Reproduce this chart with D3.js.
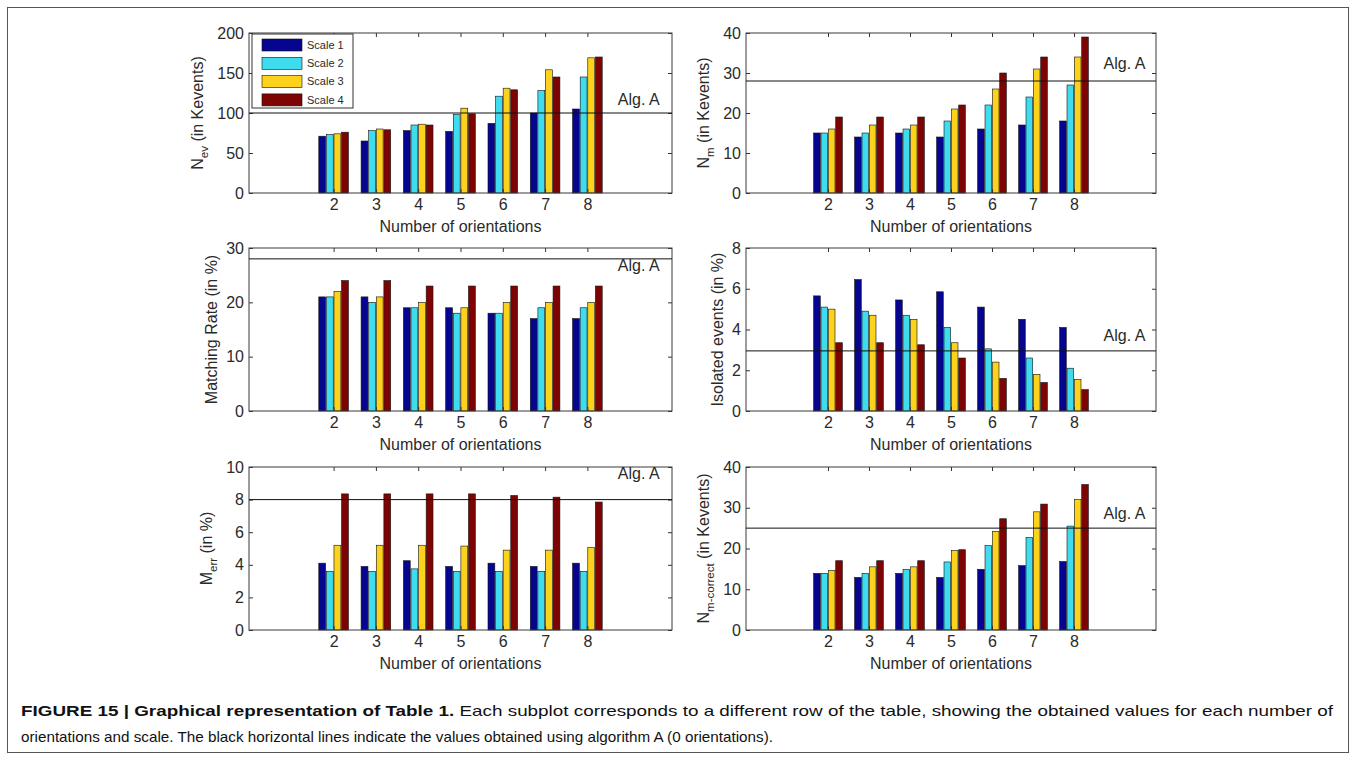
<!DOCTYPE html>
<html>
<head>
<meta charset="utf-8">
<script src="https://cdn.jsdelivr.net/npm/d3@7"></script>
<style>
  body { margin: 0; background: #fff; }
  svg text { font-family: Arial, "Liberation Sans", sans-serif; fill: #2a2a2a; }
  .caption text { font-family: "Liberation Sans Narrow", "Arial Narrow", "Liberation Sans", sans-serif; fill: #111; }
</style>
</head>
<body>
<script>
'use strict'

var orientations = [2, 3, 4, 5, 6, 7, 8]
var scaleNames   = ['Scale 1', 'Scale 2', 'Scale 3', 'Scale 4']
var scaleColors  = ['#050590', '#3fdcf0', '#fcd21c', '#7e0404']

// one row per scale, one value per orientation
var nEv = [
  [71, 65, 78, 77, 87, 100, 105],
  [73, 78, 85, 98, 121, 128, 145],
  [74, 80, 86, 106, 131, 154, 169],
  [76, 79, 85, 99, 129, 145, 170]
]
var nM = [
  [15, 14, 15, 14, 16, 17, 18],
  [15, 15, 16, 18, 22, 24, 27],
  [16, 17, 17, 21, 26, 31, 34],
  [19, 19, 19, 22, 30, 34, 39]
]
var matchRate = [
  [21, 21, 19, 19, 18, 17, 17],
  [21, 20, 19, 18, 18, 19, 19],
  [22, 21, 20, 19, 20, 20, 20],
  [24, 24, 23, 23, 23, 23, 23]
]
var isolated = [
  [5.65, 6.45, 5.45, 5.85, 5.1, 4.5, 4.1],
  [5.1, 4.9, 4.7, 4.1, 3.05, 2.6, 2.1],
  [5.0, 4.7, 4.5, 3.35, 2.4, 1.8, 1.55],
  [3.35, 3.35, 3.25, 2.6, 1.6, 1.4, 1.05]
]
var mErr = [
  [4.1, 3.9, 4.25, 3.9, 4.1, 3.9, 4.1],
  [3.6, 3.6, 3.75, 3.6, 3.6, 3.6, 3.6],
  [5.2, 5.2, 5.2, 5.15, 4.9, 4.9, 5.05],
  [8.35, 8.35, 8.35, 8.35, 8.25, 8.15, 7.85]
]
var nMCorrect = [
  [13.9, 12.9, 13.9, 12.9, 14.9, 15.8, 16.8],
  [13.9, 13.9, 14.9, 16.7, 20.7, 22.7, 25.5],
  [14.6, 15.5, 15.5, 19.5, 24.2, 29, 32],
  [17, 17, 17, 19.7, 27.3, 30.9, 35.7]
]

// algorithm A reference values (0 orientations)
var algA = [100, 28, 28, 2.95, 8, 25]
var yMax = [200, 40, 30, 8, 10, 40]
var yStep = [50, 10, 10, 2, 2, 10]

var panels = [
  { data: nEv, col: 0, row: 0, label: ['N', 'ev', ' (in Kevents)'], labelY: 117.5, legend: true },
  { data: nM, col: 1, row: 0, label: ['N', 'm', ' (in Kevents)'], labelY: 32.5 },
  { data: matchRate, col: 0, row: 1, label: ['Matching Rate (in %)'], labelY: 26.8 },
  { data: isolated, col: 1, row: 1, label: ['Isolated events (in %)'], labelY: 3.73 },
  { data: mErr, col: 0, row: 2, label: ['M', 'err', ' (in %)'], labelY: 9.63 },
  { data: nMCorrect, col: 1, row: 2, label: ['N', 'm-correct', ' (in Kevents)'], labelY: 28.7 }
]

var W = 1356, H = 760
var cols = [[249, 672], [746, 1156]]
var rows = [[33, 193], [248, 411], [467, 630]]

var svg = d3.select('body').append('svg')
  .attr('width', W)
  .attr('height', H)

svg.append('rect')
  .attr('x', 7.5).attr('y', 7.5)
  .attr('width', 1341).attr('height', 745)
  .attr('fill', 'none')
  .attr('stroke', '#555')

panels.forEach(function (p, i) {
  var x0 = cols[p.col][0], x1 = cols[p.col][1]
  var y0 = rows[p.row][0], y1 = rows[p.row][1]

  var x = d3.scaleLinear().domain([0, 10]).range([x0, x1])
  var y = d3.scaleLinear().domain([0, yMax[i]]).range([y1, y0])
  var inner = d3.scaleBand().domain(d3.range(scaleNames.length))
    .range([-0.35, 0.35]).paddingInner(0.1)

  var g = svg.append('g')
  var yTicks = d3.range(0, yMax[i] + 1e-9, yStep[i])

  // bars
  p.data.forEach(function (series, s) {
    g.selectAll()
      .data(series)
      .enter().append('rect')
      .attr('x', function (d, k) { return x(orientations[k] + inner(s)) })
      .attr('width', function () { return x(inner.bandwidth()) - x(0) })
      .attr('y', function (d) { return y(d) })
      .attr('height', function (d) { return y(0) - y(d) })
      .attr('fill', scaleColors[s])
      .attr('stroke', '#111')
      .attr('stroke-width', 0.6)
  })

  // axes with inward ticks
  var left = g.append('g').attr('transform', 'translate(' + x0 + ',0)')
    .call(d3.axisLeft(y).tickValues(yTicks).tickSizeInner(-4).tickSizeOuter(0).tickPadding(5))
  g.append('g').attr('transform', 'translate(' + x1 + ',0)')
    .call(d3.axisRight(y).tickValues(yTicks).tickSizeInner(-4).tickSizeOuter(0).tickFormat(''))
  g.append('g').attr('transform', 'translate(0,' + y1 + ')')
    .call(d3.axisBottom(x).tickValues(orientations).tickSizeInner(-4).tickSizeOuter(0).tickPadding(6))
  g.append('g').attr('transform', 'translate(0,' + y0 + ')')
    .call(d3.axisTop(x).tickValues(orientations).tickSizeInner(-4).tickSizeOuter(0).tickFormat(''))

  g.selectAll('.domain').remove()
  g.selectAll('.tick line').attr('stroke', '#333')
  g.selectAll('.tick text').attr('font-size', 16).attr('fill', '#3a3a3a')
    .style('font-family', 'Arial, "Liberation Sans", sans-serif')

  g.append('rect')
    .attr('x', x0).attr('y', y0)
    .attr('width', x1 - x0).attr('height', y1 - y0)
    .attr('fill', 'none')
    .attr('stroke', '#3a3a3a')

  // algorithm A line
  g.append('line')
    .attr('x1', x0).attr('x2', x1)
    .attr('y1', y(algA[i])).attr('y2', y(algA[i]))
    .attr('stroke', '#111')
  g.append('text')
    .attr('x', x(8.72))
    .attr('y', y(p.labelY))
    .attr('dy', '0.35em')
    .attr('font-size', 16)
    .text('Alg. A')

  g.append('text')
    .attr('x', (x0 + x1) / 2)
    .attr('y', y1 + 39)
    .attr('text-anchor', 'middle')
    .attr('font-size', 16)
    .attr('fill', '#3a3a3a')
    .text('Number of orientations')

  // y label, placed just left of the tick labels
  var tickW = d3.max(left.selectAll('.tick text').nodes(), function (n) { return n.getComputedTextLength() })
  var off = tickW + 14 + (p.label.length > 1 ? 5 : 0)
  var yl = g.append('text')
    .attr('transform', 'translate(' + (x0 - off) + ',' + ((y0 + y1) / 2) + ') rotate(-90)')
    .attr('text-anchor', 'middle')
    .attr('font-size', 16)
    .attr('fill', '#3a3a3a')
  yl.append('tspan').text(p.label[0])
  if (p.label.length > 1) {
    yl.append('tspan').attr('font-size', 11.5).attr('dy', 5).text(p.label[1])
    yl.append('tspan').attr('dy', -5).text(p.label[2])
  }

  if (p.legend) {
    var lg = g.append('g').attr('transform', 'translate(' + (x0 + 3) + ',' + (y0 + 1) + ')')
    lg.append('rect')
      .attr('width', 101).attr('height', 74)
      .attr('fill', '#fff').attr('stroke', '#333')
    var item = lg.selectAll('.item')
      .data(scaleNames)
      .enter().append('g')
      .attr('transform', function (d, k) { return 'translate(10,' + (5 + k * 18.3) + ')' })
    item.append('rect')
      .attr('width', 40).attr('height', 12)
      .attr('fill', function (d, k) { return scaleColors[k] })
      .attr('stroke', '#111').attr('stroke-width', 0.6)
    item.append('text')
      .attr('x', 45).attr('y', 6).attr('dy', '0.35em')
      .attr('font-size', 11)
      .text(function (d) { return d })
  }
})

// caption
var cap = svg.append('g').attr('class', 'caption')
var l1 = cap.append('text').attr('x', 21).attr('y', 716).attr('font-size', 15)
  .attr('textLength', 1312).attr('lengthAdjust', 'spacingAndGlyphs')
l1.append('tspan').attr('font-weight', 'bold').text('FIGURE 15 | Graphical representation of Table 1.')
l1.append('tspan').text(' Each subplot corresponds to a different row of the table, showing the obtained values for each number of')
cap.append('text').attr('x', 21).attr('y', 742).attr('font-size', 15)
  .attr('textLength', 752).attr('lengthAdjust', 'spacingAndGlyphs')
  .text('orientations and scale. The black horizontal lines indicate the values obtained using algorithm A (0 orientations).')
</script>
</body>
</html>
